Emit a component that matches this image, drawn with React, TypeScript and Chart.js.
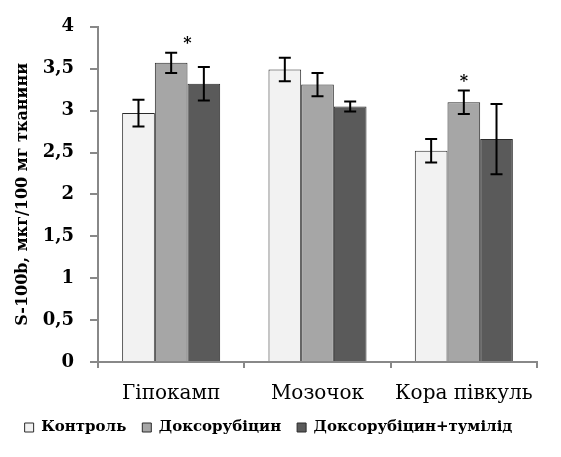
import React, { useEffect, useRef } from "react";
import { Chart, registerables } from "chart.js";

Chart.register(...registerables);

const categories = ["Гіпокамп", "Мозочок", "Кора півкуль"];
const seriesNames = ["Контроль", "Доксорубіцин", "Доксорубіцин+тумілід"];
const controlValues = [2.97, 3.49, 2.52];
const controlErrors = [0.16, 0.14, 0.14];
const doxValues = [3.57, 3.31, 3.1];
const doxErrors = [0.12, 0.14, 0.14];
const doxTumValues = [3.32, 3.05, 2.66];
const doxTumErrors = [0.2, 0.06, 0.42];
const significant = [true, false, true];
const yTickLabels = ["0", "0,5", "1", "1,5", "2", "2,5", "3", "3,5", "4"];
const yTitle = "S-100b, мкг/100 мг тканини";

const colors = ["#f2f2f2", "#a6a6a6", "#5a5a5a"];
const errorsBySeries = [controlErrors, doxErrors, doxTumErrors];
const FONT = "'DejaVu Serif'";

const errorBarPlugin = {
  id: "errorBars",
  afterDatasetsDraw(chart: any) {
    const ctx = chart.ctx;
    const yScale = chart.scales.y;
    ctx.save();
    chart.data.datasets.forEach((ds: any, di: number) => {
      const meta = chart.getDatasetMeta(di);
      meta.data.forEach((bar: any, i: number) => {
        const v = ds.data[i];
        const e = errorsBySeries[di][i];
        const yTop = yScale.getPixelForValue(v + e);
        const yBot = yScale.getPixelForValue(v - e);
        const x = bar.x;
        ctx.strokeStyle = "#000";
        ctx.lineWidth = 2;
        ctx.beginPath();
        ctx.moveTo(x, yTop);
        ctx.lineTo(x, yBot);
        ctx.moveTo(x - 6, yTop);
        ctx.lineTo(x + 6, yTop);
        ctx.moveTo(x - 6, yBot);
        ctx.lineTo(x + 6, yBot);
        ctx.stroke();
      });
    });
    const meta = chart.getDatasetMeta(1);
    ctx.fillStyle = "#000";
    ctx.font = "bold 16px " + FONT;
    ctx.textAlign = "center";
    ctx.textBaseline = "middle";
    meta.data.forEach((bar: any, i: number) => {
      if (!significant[i]) return;
      const y = yScale.getPixelForValue(doxValues[i] + doxErrors[i]);
      const dx = i === 0 ? bar.width * 0.5 : 0;
      ctx.fillText("*", bar.x + dx, y - 9);
    });
    ctx.restore();
  },
};

export default function App() {
  const ref = useRef<HTMLCanvasElement>(null);
  useEffect(() => {
    if (!ref.current) return;
    const datasets = [controlValues, doxValues, doxTumValues].map((d, i) => ({
      label: seriesNames[i],
      data: d,
      backgroundColor: colors[i],
      borderColor: "#2a2a2a",
      borderWidth: 1,
      barPercentage: 1,
      categoryPercentage: 0.67,
    }));
    const chart = new Chart(ref.current, {
      type: "bar",
      data: { labels: categories, datasets },
      plugins: [errorBarPlugin],
      options: {
        responsive: false,
        animation: false,
        layout: { padding: { top: 14, right: 24, left: 0, bottom: 12 } },
        plugins: {
          tooltip: { enabled: false },
          legend: {
            position: "bottom",
            labels: {
              boxWidth: 9,
              boxHeight: 9,
              padding: 16,
              color: "#000",
              font: { family: FONT, size: 15, weight: "bold" },
            },
          },
        },
        scales: {
          x: {
            grid: {
              drawOnChartArea: false,
              color: "#888",
              lineWidth: 2,
              tickLength: 6,
              offset: true,
            },
            border: { color: "#888", width: 2 },
            ticks: {
              color: "#000",
              padding: 14,
              font: { family: FONT, size: 20 },
            },
            afterFit(scale: any) {
              scale.height = 42;
            },
          },
          y: {
            min: 0,
            max: 4,
            grid: {
              drawOnChartArea: false,
              color: "#888",
              lineWidth: 2,
              tickLength: 8,
            },
            border: { color: "#888", width: 2 },
            ticks: {
              stepSize: 0.5,
              color: "#000",
              padding: 16,
              font: { family: FONT, size: 18, weight: "bold" },
              callback: (_v: any, i: number) => yTickLabels[i],
            },
            title: {
              display: true,
              text: yTitle,
              color: "#000",
              padding: { top: 13, bottom: 0 },
              font: { family: FONT, size: 16, weight: "bold" },
            },
            afterFit(scale: any) {
              scale.width = 98;
            },
          },
        },
      },
    });
    return () => chart.destroy();
  }, []);
  return (
    <div style={{ position: "fixed", left: 0, top: 0, width: 561, height: 457, background: "#fff" }}>
      <canvas ref={ref} width={561} height={457} />
    </div>
  );
}
